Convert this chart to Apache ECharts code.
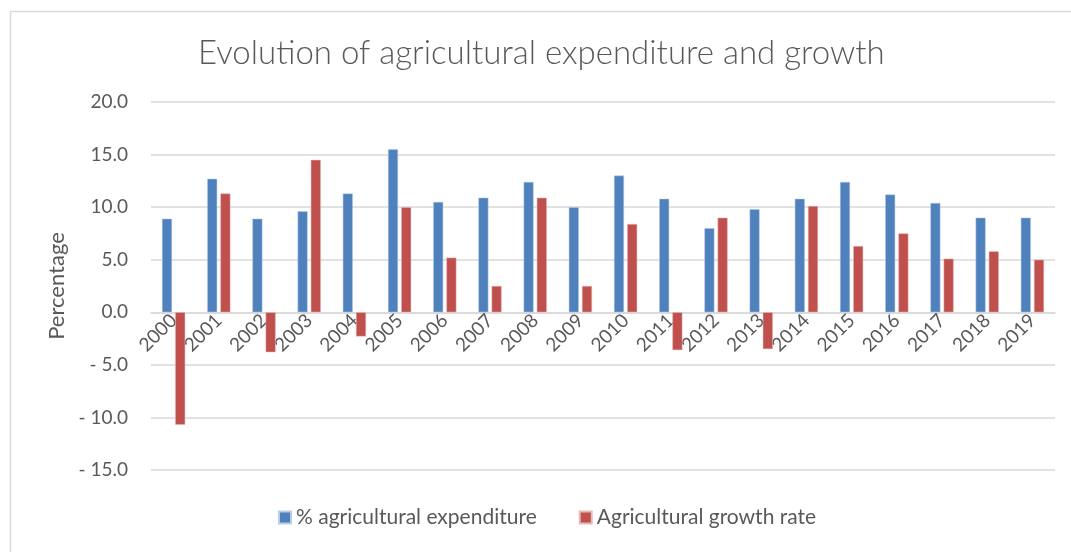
<!DOCTYPE html>
<html>
<head>
<meta charset="utf-8">
<script src="https://cdn.jsdelivr.net/npm/echarts@6/dist/echarts.min.js"></script>
<style>
html,body{margin:0;padding:0;background:#fff;}
#chart{width:1071px;height:552px;}
</style>
</head>
<body>
<div id="chart"></div>
<script>
const years = ['2000','2001','2002','2003','2004','2005','2006','2007','2008','2009','2010','2011','2012','2013','2014','2015','2016','2017','2018','2019'];
const expenditure = [8.9, 12.7, 8.9, 9.6, 11.3, 15.5, 10.5, 10.9, 12.4, 10.0, 13.0, 10.8, 8.0, 9.8, 10.8, 12.4, 11.2, 10.4, 9.0, 9.0];
const growthRate = [-10.7, 11.3, -3.8, 14.5, -2.3, 10.0, 5.2, 2.5, 10.9, 2.5, 8.4, -3.6, 9.0, -3.5, 10.1, 6.3, 7.5, 5.1, 5.8, 5.0];
const seriesNames = ['% agricultural expenditure', 'Agricultural growth rate'];
const titleText = 'Evolution of agricultural expenditure and growth';
const yAxisName = 'Percentage';

const FONT = 'Lato';
const TXT = '#595959';
const Y_MIN = -15, Y_MAX = 20;
const GRID = { left: 151, right: 16, top: 102, bottom: 82 };
const plotH = 552 - GRID.top - GRID.bottom;
const zeroOffset = -plotH * (0 - Y_MIN) / (Y_MAX - Y_MIN);

const chart = echarts.init(document.getElementById('chart'));
chart.setOption({
  animation: false,
  textStyle: { fontFamily: FONT },
  title: {
    text: titleText, left: 198, top: 37, padding: 0,
    textStyle: { fontFamily: FONT, fontSize: 33, fontWeight: 300, color: TXT }
  },
  graphic: [{
    type: 'rect', left: 8, top: 9, silent: true, z: -1,
    shape: { width: 1200, height: 700 },
    style: { fill: 'none', stroke: '#D9D9D9', lineWidth: 1.5 }
  }],
  legend: {
    top: 507, left: 278, padding: 0, itemWidth: 12, itemHeight: 12, itemGap: 42,
    icon: 'rect',
    textStyle: { fontFamily: FONT, fontSize: 21, color: TXT },
    data: seriesNames
  },
  grid: GRID,
  xAxis: {
    type: 'category', data: years,
    offset: zeroOffset,
    axisLine: { onZero: false, lineStyle: { color: '#D9D9D9', width: 1.5 } },
    axisTick: { show: false },
    axisLabel: { rotate: 45, fontSize: 19, color: TXT, margin: 5, interval: 0 }
  },
  yAxis: {
    type: 'value', min: Y_MIN, max: Y_MAX, interval: 5,
    name: yAxisName, nameLocation: 'middle', nameGap: 82, nameRotate: 90,
    nameTextStyle: { fontFamily: FONT, fontSize: 22, color: TXT },
    axisLine: { show: false }, axisTick: { show: false },
    splitLine: { lineStyle: { color: '#D9D9D9', width: 1.5 } },
    axisLabel: {
      fontSize: 19, color: TXT, margin: 23,
      formatter: v => v < 0 ? '- ' + Math.abs(v).toFixed(1) : v.toFixed(1)
    }
  },
  series: [
    { name: seriesNames[0], type: 'bar', data: expenditure, barWidth: 10, barGap: '32%',
      itemStyle: { color: '#4F81BD', borderColor: '#B9CDE5', borderWidth: 0.5 } },
    { name: seriesNames[1], type: 'bar', data: growthRate, barWidth: 10,
      itemStyle: { color: '#C0504D', borderColor: '#E6B9B8', borderWidth: 0.5 } }
  ]
});
</script>
</body>
</html>
